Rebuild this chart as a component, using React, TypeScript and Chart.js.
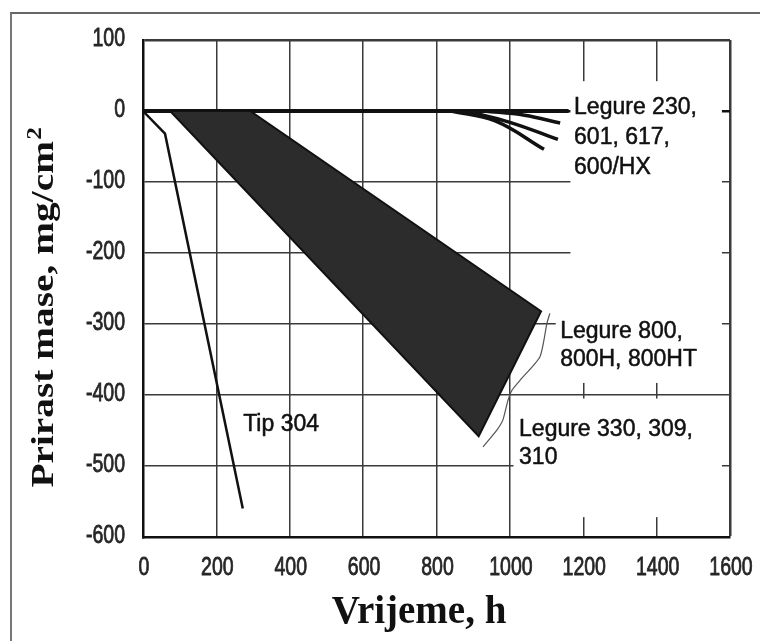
import { useEffect, useRef } from "react";
import { Chart, registerables } from "chart.js";

Chart.register(...registerables);

// ---- data ----
const xTickValues = [0, 200, 400, 600, 800, 1000, 1200, 1400, 1600];
const yTickValues = [100, 0, -100, -200, -300, -400, -500, -600];

const tip304X = [0, 60, 272];
const tip304Y = [0, -32, -560];

const band800X = [74, 292, 1085, 915, 74];
const band800Y = [0, 0, -282, -458, 0];

const alloy230X = [0, 1160];
const alloy230Y = [0, 0];

const alloy601X = [930, 1040, 1137];
const alloy601Y = [0, -6, -17];

const alloy617X = [880, 1000, 1131];
const alloy617Y = [0, -16, -40];

const alloy600X = [840, 960, 1093];
const alloy600Y = [0, -14, -54];

const braceX = [1109, 1101, 1082, 1028, 1006, 995, 981, 965, 927];
const braceY = [-285, -299, -346, -379, -393, -407, -435, -449, -473];

const label230 = ["Legure 230,", "601, 617,", "600/HX"];
const label800 = ["Legure 800,", "800H, 800HT"];
const label330 = ["Legure 330, 309,", "310"];
const label304 = ["Tip 304"];

const xTitle = "Vrijeme, h";
const yTitleMain = "Prirast mase, mg/cm";
const yTitleSup = "2";

// ---- layout / annotation placement ----
const annotations = [
  { lines: label230, x: 1175, y: 5, lh: 30 },
  { lines: label800, x: 1137, y: -311, lh: 28 },
  { lines: label330, x: 1025, y: -449, lh: 28 },
  { lines: label304, x: 273, y: -442, lh: 28 },
];

const maskBoxes = [
  { x0: 1165, x1: 1578, y0: 42, y1: -238 },
  { x0: 1125, x1: 1578, y0: -238, y1: -383 },
  { x0: 1010, x1: 1578, y0: -405, y1: -572 },
];

const TICK_FONT = "25px 'Liberation Sans', Arial, sans-serif";
const TICK_SQUEEZE = 0.78;

const pts = (xs: number[], ys: number[]) => xs.map((x, i) => ({ x, y: ys[i] }));

const overlayPlugin = {
  id: "overlay",
  beforeDatasetsDraw(chart: any) {
    const { ctx, scales } = chart;
    const xs = scales.x;
    const ys = scales.y;
    ctx.save();
    ctx.fillStyle = "#ffffff";
    for (const b of maskBoxes) {
      const px0 = xs.getPixelForValue(b.x0);
      const px1 = xs.getPixelForValue(b.x1);
      const py0 = ys.getPixelForValue(b.y0);
      const py1 = ys.getPixelForValue(b.y1);
      ctx.fillRect(px0, py0, px1 - px0, py1 - py0);
    }
    ctx.restore();
  },
  afterDatasetsDraw(chart: any) {
    const { ctx, scales } = chart;
    const xs = scales.x;
    const ys = scales.y;
    ctx.save();
    ctx.fillStyle = "#111";
    ctx.strokeStyle = "#111";
    ctx.lineWidth = 0.5;
    ctx.font = "23px 'Liberation Sans', Arial, sans-serif";
    ctx.textAlign = "left";
    ctx.textBaseline = "middle";
    for (const a of annotations) {
      const px = xs.getPixelForValue(a.x);
      const py = ys.getPixelForValue(a.y);
      a.lines.forEach((t, i) => {
        ctx.fillText(t, px, py + i * a.lh);
        ctx.strokeText(t, px, py + i * a.lh);
      });
    }
    ctx.restore();
  },
  afterDraw(chart: any) {
    const { ctx, scales } = chart;
    const xs = scales.x;
    const ys = scales.y;
    // tick labels (condensed look)
    ctx.save();
    ctx.fillStyle = "#262626";
    ctx.strokeStyle = "#262626";
    ctx.lineWidth = 0.8;
    ctx.font = TICK_FONT;
    ctx.textBaseline = "middle";
    for (const t of xs.ticks) {
      const px = xs.getPixelForValue(t.value);
      ctx.save();
      ctx.translate(px + 1, xs.top + 31);
      ctx.scale(TICK_SQUEEZE, 1);
      ctx.textAlign = "center";
      ctx.fillText(String(t.value), 0, 0);
      ctx.strokeText(String(t.value), 0, 0);
      ctx.restore();
    }
    for (const t of ys.ticks) {
      const py = ys.getPixelForValue(t.value);
      ctx.save();
      ctx.translate(ys.right - 18, py - 1);
      ctx.scale(TICK_SQUEEZE, 1);
      ctx.textAlign = "right";
      ctx.fillText(String(t.value), 0, 0);
      ctx.strokeText(String(t.value), 0, 0);
      ctx.restore();
    }
    ctx.restore();

    ctx.save();
    ctx.fillStyle = "#111";
    // x title
    ctx.font = "bold 39px 'Liberation Serif', 'Times New Roman', serif";
    ctx.textAlign = "center";
    ctx.textBaseline = "alphabetic";
    ctx.fillText(xTitle, 419, 623);
    // y title (rotated, horizontally stretched)
    ctx.translate(53, 308);
    ctx.rotate(-Math.PI / 2);
    ctx.scale(1.27, 1);
    const mainFont = "bold 31px 'Liberation Serif', 'Times New Roman', serif";
    const supFont = "bold 20px 'Liberation Serif', 'Times New Roman', serif";
    ctx.font = mainFont;
    const w1 = ctx.measureText(yTitleMain).width;
    ctx.font = supFont;
    const w2 = ctx.measureText(yTitleSup).width;
    const start = -(w1 + w2) / 2;
    ctx.textAlign = "left";
    ctx.font = mainFont;
    ctx.fillText(yTitleMain, start, 0);
    ctx.font = supFont;
    ctx.fillText(yTitleSup, start + w1 + 1, -12);
    ctx.restore();
  },
};

export default function App() {
  const ref = useRef<HTMLCanvasElement | null>(null);

  useEffect(() => {
    if (!ref.current) return;
    const line = (data: any[], width: number, color = "#111") => ({
      data,
      showLine: true,
      borderColor: color,
      borderWidth: width,
      pointRadius: 0,
      fill: false,
    });
    const chart = new Chart(ref.current, {
      type: "scatter",
      data: {
        datasets: [
          {
            ...line(pts(band800X, band800Y), 2, "#111"),
            fill: "shape",
            backgroundColor: "#2c2c2c",
            tension: 0,
          } as any,
          line(pts(tip304X, tip304Y), 2.5),
          line(pts(alloy230X, alloy230Y), 4),
          { ...line(pts(alloy601X, alloy601Y), 3.5), tension: 0.4 } as any,
          { ...line(pts(alloy617X, alloy617Y), 3.5), tension: 0.4 } as any,
          { ...line(pts(alloy600X, alloy600Y), 3.5), tension: 0.4 } as any,
          { ...line(pts(braceX, braceY), 1.2, "#555"), tension: 0.2 } as any,
        ],
      },
      options: {
        responsive: false,
        animation: false,
        devicePixelRatio: 1,
        layout: { padding: { left: 0, top: 40, right: 30, bottom: 0 } },
        plugins: { legend: { display: false }, tooltip: { enabled: false } },
        scales: {
          x: {
            type: "linear",
            min: 0,
            max: 1600,
            afterBuildTicks: (s: any) => {
              s.ticks = xTickValues.map((v) => ({ value: v }));
            },
            afterFit: (s: any) => {
              s.height = 104;
              s.paddingLeft = 0;
              s.paddingRight = 0;
            },
            ticks: { display: false },
            grid: {
              drawTicks: false,
              color: "#3a3a3a",
              lineWidth: (c: any) => (c.tick && c.tick.value === 1600 ? 2.5 : 1.5),
            },
            border: { display: true, color: "#111", width: 2.5 },
          },
          y: {
            type: "linear",
            min: -600,
            max: 100,
            afterBuildTicks: (s: any) => {
              s.ticks = yTickValues.map((v) => ({ value: v }));
            },
            afterFit: (s: any) => {
              s.width = 143;
              s.paddingTop = 0;
              s.paddingBottom = 0;
            },
            ticks: { display: false },
            grid: {
              drawTicks: false,
              color: (c: any) => (c.tick && c.tick.value === 0 ? "#111" : "#3a3a3a"),
              lineWidth: (c: any) =>
                c.tick && (c.tick.value === 100 || c.tick.value === 0) ? 2.5 : 1.5,
            },
            border: { display: true, color: "#111", width: 2.5 },
          },
        },
      },
      plugins: [overlayPlugin],
    });
    return () => chart.destroy();
  }, []);

  return (
    <div style={{ position: "absolute", left: 0, top: 0, width: 760, height: 641, background: "#fff", overflow: "hidden" }}>
      <div
        style={{
          position: "absolute",
          left: 10,
          top: 12,
          width: 800,
          height: 700,
          borderLeft: "2px solid #777",
          borderTop: "2px solid #666",
        }}
      />
      <canvas ref={ref} width={760} height={641} style={{ position: "absolute", left: 0, top: 0, width: 760, height: 641 }} />
    </div>
  );
}
